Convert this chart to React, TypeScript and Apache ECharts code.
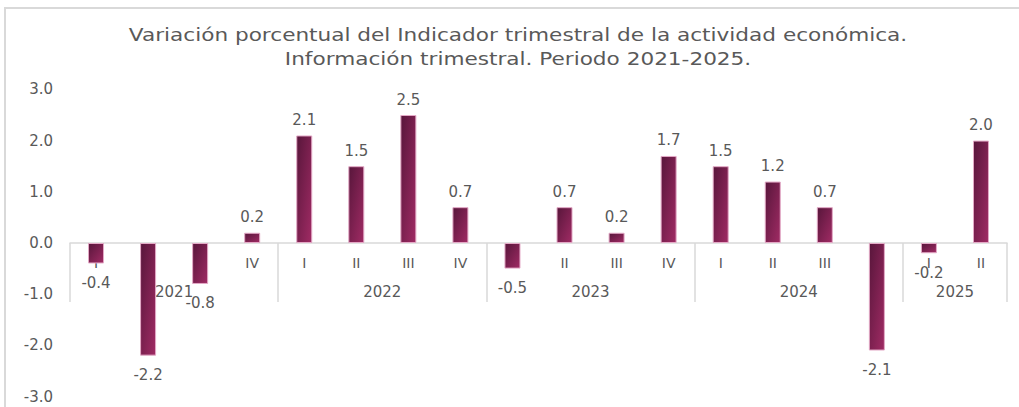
import React, { useEffect, useRef } from "react";
import * as echarts from "echarts";

const titleLines = [
  "Variación porcentual del Indicador trimestral de la actividad económica.",
  "Información trimestral. Periodo 2021-2025.",
];
const quarters = ["I", "II", "III", "IV", "I", "II", "III", "IV", "I", "II", "III", "IV", "I", "II", "III", "IV", "I", "II"];
const years = ["2021", "2022", "2023", "2024", "2025"];
const yearCounts = [4, 4, 4, 4, 2];
const values = [-0.4, -2.2, -0.8, 0.2, 2.1, 1.5, 2.5, 0.7, -0.5, 0.7, 0.2, 1.7, 1.5, 1.2, 0.7, -2.1, -0.2, 2.0];
const yTicks = [-3, -2, -1, 0, 1, 2, 3];

const TEXT = "#595959";
const GRID_LINE = "#d9d9d9";
const FONT = "DejaVu Sans";

const W = 1019;
const H = 407;
const GRID_TOP = 89.4;
const GRID_BOTTOM = 10.4;

export default function App() {
  const ref = useRef<HTMLDivElement>(null);

  useEffect(() => {
    if (!ref.current) return;
    const chart = echarts.init(ref.current, null, { renderer: "svg" });

    const bounds: number[] = [0];
    const centres: number[] = [];
    yearCounts.forEach((c) => {
      const start = bounds[bounds.length - 1];
      centres.push(start + c / 2);
      bounds.push(start + c);
    });

    // move the x axes up onto the zero line of the value axis
    const plotH = H - GRID_TOP - GRID_BOTTOM;
    const ymin = yTicks[0];
    const ymax = yTicks[yTicks.length - 1];
    const zeroFromBottom = ((0 - ymin) / (ymax - ymin)) * plotH;
    const xOffset = -zeroFromBottom;

    const barGradient = new echarts.graphic.LinearGradient(0, 0, 1, 1, [
      { offset: 0, color: "#58163b" },
      { offset: 1, color: "#a02b64" },
    ]);

    chart.setOption({
      animation: false,
      backgroundColor: "transparent",
      graphic: titleLines.map((t, i) => ({
        type: "text",
        x: 518,
        y: 35 + i * 24,
        scaleX: 1.2,
        scaleY: 1,
        silent: true,
        style: {
          text: t,
          fill: TEXT,
          font: `normal 18px "${FONT}"`,
          textAlign: "center",
          textVerticalAlign: "middle",
        },
      })),
      grid: {
        left: 70,
        right: 12,
        top: GRID_TOP,
        bottom: GRID_BOTTOM,
        containLabel: false,
        outerBoundsMode: "none",
      },
      xAxis: [
        {
          type: "category",
          data: quarters,
          position: "bottom",
          offset: xOffset,
          boundaryGap: true,
          axisLine: { show: true, onZero: false, lineStyle: { color: GRID_LINE, width: 1.5 } },
          axisTick: { show: false },
          axisLabel: { color: TEXT, fontFamily: FONT, fontSize: 14, margin: 13, interval: 0 },
          splitLine: { show: false },
        },
        {
          type: "value",
          min: 0,
          max: quarters.length,
          position: "bottom",
          offset: xOffset,
          axisLine: { show: false, onZero: false },
          axisTick: {
            show: true,
            customValues: bounds,
            length: 59,
            lineStyle: { color: GRID_LINE, width: 1.5 },
          },
          axisLabel: {
            show: true,
            customValues: centres,
            margin: 41,
            color: TEXT,
            fontFamily: FONT,
            fontSize: 15,
            formatter: (v: number) => {
              const i = centres.indexOf(v);
              return i >= 0 ? years[i] : "";
            },
          },
          splitLine: { show: false },
        },
      ],
      yAxis: {
        type: "value",
        min: ymin,
        max: ymax,
        interval: 1,
        axisLine: { show: false },
        axisTick: { show: false },
        splitLine: { show: false },
        axisLabel: {
          color: TEXT,
          fontFamily: FONT,
          fontSize: 15,
          margin: 17,
          formatter: (v: number) => v.toFixed(1),
        },
      },
      series: [
        {
          type: "bar",
          xAxisIndex: 0,
          barWidth: 16,
          data: values.map((v) => ({
            value: v,
            label: {
              show: true,
              position: v >= 0 ? "top" : "bottom",
              distance: v >= 0 ? 8 : 12,
              formatter: () => v.toFixed(1),
              color: TEXT,
              fontFamily: FONT,
              fontSize: 15,
            },
          })),
          itemStyle: {
            color: barGradient,
            borderColor: "#e3a9c6",
            borderWidth: 1,
          },
        },
      ],
    });

    return () => chart.dispose();
  }, []);

  return (
    <div style={{ position: "fixed", left: 0, top: 0, width: W, height: H, background: "#fff", overflow: "hidden" }}>
      <div
        style={{
          position: "absolute",
          left: 4,
          top: 7,
          width: 1030,
          height: 420,
          borderTop: "2px solid #d9d9d9",
          borderLeft: "2px solid #d9d9d9",
        }}
      />
      <div ref={ref} style={{ position: "absolute", left: 0, top: 0, width: W, height: H }} />
    </div>
  );
}
